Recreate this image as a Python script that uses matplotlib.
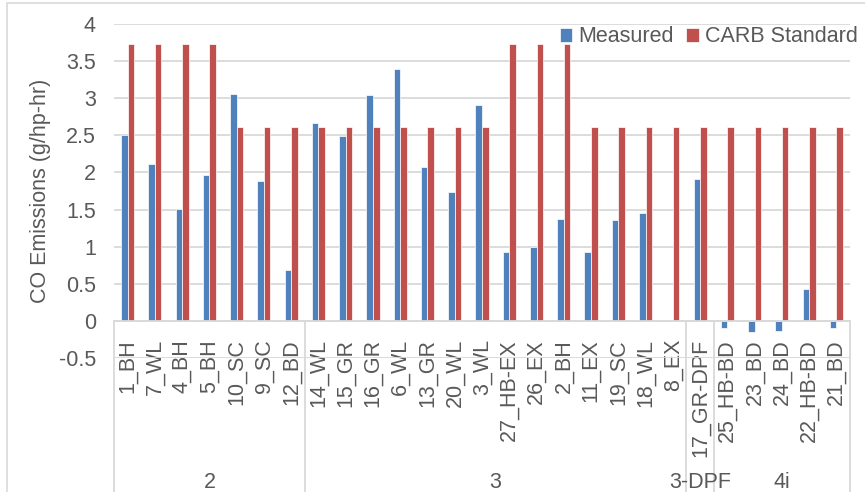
import numpy as np
import matplotlib
matplotlib.use('Agg')
import matplotlib.pyplot as plt
from matplotlib.patches import Rectangle
plt.rc('font', family='Liberation Sans')

# data
engines = ['1_BH', '7_WL', '4_BH', '5_BH', '10_SC', '9_SC', '12_BD',
           '14_WL', '15_GR', '16_GR', '6_WL', '13_GR', '20_WL', '3_WL',
           '27_HB-EX', '26_EX', '2_BH', '11_EX', '19_SC', '18_WL', '8_EX',
           '17_GR-DPF',
           '25_HB-BD', '23_BD', '24_BD', '22_HB-BD', '21_BD']
measured = [2.51, 2.12, 1.51, 1.97, 3.06, 1.88, 0.68,
            2.67, 2.49, 3.04, 3.39, 2.08, 1.74, 2.91,
            0.93, 1.00, 1.37, 0.93, 1.36, 1.45, np.nan,
            1.91,
            -0.09, -0.15, -0.14, 0.43, -0.09]
carb = [3.73, 3.73, 3.73, 3.73, 2.61, 2.61, 2.61,
        2.61, 2.61, 2.61, 2.61, 2.61, 2.61, 2.61,
        3.73, 3.73, 3.73, 2.61, 2.61, 2.61, 2.61,
        2.61,
        2.61, 2.61, 2.61, 2.61, 2.61]
groups = ['2', '3', '3-DPF', '4i']
group_sizes = [7, 14, 1, 5]

BLUE = '#4F81BD'
RED = '#C0504D'
GRID = '#D9D9D9'
TXT = '#595959'
FS = 15.5

W, H = 865, 492
fig = plt.figure(figsize=(W / 100, H / 100), dpi=100)
ax = fig.add_axes([114 / W, 1 - 358 / H, (850 - 114) / W, (358 - 24) / H])

x = np.arange(len(engines))
bw = 0.24
ax.bar(x - bw / 2, measured, bw, color=BLUE, edgecolor='white', linewidth=0.5,
       label='Measured', zorder=2)
ax.bar(x + bw / 2, carb, bw, color=RED, edgecolor='white', linewidth=0.5,
       label='CARB Standard', zorder=2)

ax.set_xlim(-0.5, len(engines) - 0.5)
ax.set_ylim(-0.5, 4)
ax.set_yticks(np.arange(-0.5, 4.01, 0.5))
ax.set_yticklabels(['-0.5', '0', '0.5', '1', '1.5', '2', '2.5', '3', '3.5', '4'])
ax.grid(axis='y', color=GRID, linewidth=1.3)
ax.set_axisbelow(True)

for s in ['top', 'right', 'left']:
    ax.spines[s].set_visible(False)
ax.spines['bottom'].set_position(('data', 0))
ax.spines['bottom'].set_color(GRID)
ax.spines['bottom'].set_linewidth(1.3)

ax.set_xticks(x)
ax.set_xticklabels(engines, rotation=90, fontsize=FS, color=TXT, va='top')
ax.tick_params(axis='x', length=0, pad=13)
ax.tick_params(axis='y', length=0, pad=13, labelsize=FS, labelcolor=TXT)

# group separators and group labels
bounds = np.concatenate([[0], np.cumsum(group_sizes)]) - 0.5
for b in bounds:
    ax.plot([b, b], [0, -2.6], color=GRID, linewidth=1.3, clip_on=False, zorder=1)
for i, g in enumerate(groups):
    xc = (bounds[i] + bounds[i + 1]) / 2
    ax.text(xc, -2.175, g, ha='center', va='center', fontsize=FS, color=TXT,
            clip_on=False)

fig.text(41 / W, 1 - 191 / H, 'CO Emissions (g/hp-hr)', rotation=90,
         ha='center', va='center', fontsize=FS, color=TXT)

fig.legend(loc='center right', bbox_to_anchor=(866 / W, 1 - 37 / H), ncol=2,
           frameon=False, fontsize=FS, handlelength=0.6, handleheight=0.6,
           handletextpad=0.25, columnspacing=0.6, borderaxespad=0,
           labelcolor=TXT)

# chart area border
fig.patches.append(Rectangle((7 / W, -0.1), 2, 1.1 - 3 / H, transform=fig.transFigure,
                             fill=False, edgecolor=GRID, linewidth=1.2))

fig.savefig('out.png', dpi=100)
